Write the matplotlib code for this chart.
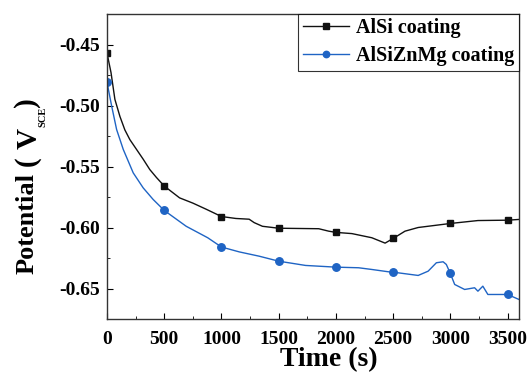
import numpy as np
import matplotlib
matplotlib.use("Agg")
from matplotlib import pyplot as plt
from matplotlib.ticker import MultipleLocator

plt.rcParams['font.family'] = 'Liberation Serif'
plt.rcParams['font.weight'] = 'bold'

# AlSi coating (black squares)
tAlSi = [0, 35, 69, 113, 156, 200, 258, 316, 374, 432, 500, 634, 750, 866, 1000,
         1126, 1242, 1286, 1358, 1500, 1850, 1937, 2000, 2140, 2314, 2430, 2500,
         2604, 2719, 3000, 3241, 3500, 3600]
vAlSi = [-0.457, -0.473, -0.495, -0.509, -0.520, -0.528, -0.536, -0.544, -0.5525,
         -0.559, -0.566, -0.5757, -0.580, -0.585, -0.591, -0.5926, -0.5932, -0.596,
         -0.599, -0.6006, -0.601, -0.603, -0.604, -0.605, -0.6084, -0.6128, -0.609,
         -0.603, -0.600, -0.5967, -0.5943, -0.594, -0.5934]

# AlSiZnMg coating (blue circles)
tZnMg = [0, 41, 84, 142, 229, 316, 403, 500, 692, 880, 1000, 1156, 1329, 1500, 1735,
         2000, 2198, 2314, 2459, 2500, 2719, 2806, 2878, 2937, 2965, 3000, 3038, 3125,
         3212, 3241, 3284, 3328, 3414, 3500, 3600]
vZnMg = [-0.481, -0.5006, -0.5197, -0.536, -0.5552, -0.5675, -0.577, -0.586, -0.599,
         -0.6084, -0.616, -0.620, -0.6235, -0.6276, -0.6311, -0.6325, -0.633, -0.6344,
         -0.6363, -0.6366, -0.6393, -0.6358, -0.6289, -0.6281, -0.6303, -0.6377,
         -0.6467, -0.6508, -0.6494, -0.6522, -0.6481, -0.6549, -0.6549, -0.6549, -0.659]

markerTimes = [0, 500, 1000, 1500, 2000, 2500, 3000, 3500]
xTicks = [0, 500, 1000, 1500, 2000, 2500, 3000, 3500]
yTicks = [-0.65, -0.60, -0.55, -0.50, -0.45]

blue = '#1f64c4'
W, H = 530, 376

fig = plt.figure(figsize=(5.3, 3.76), dpi=100)
ax = fig.add_axes([107/W, 1 - 319/H, 412/W, 305/H])

idxA = list(np.where(np.isin(tAlSi, markerTimes))[0])
idxB = list(np.where(np.isin(tZnMg, markerTimes))[0])
ax.plot(tAlSi, vAlSi, color='#111111', lw=1, marker='s', ms=4.6, markevery=idxA, label='AlSi coating')
ax.plot(tZnMg, vZnMg, color=blue, lw=1, marker='o', ms=5.4, markevery=idxB, label='AlSiZnMg coating')

ax.set_xlim(0, 3600)
ax.set_ylim(-0.675, -0.425)
ax.set_xticks(xTicks)
ax.set_yticks(yTicks)
ax.set_yticklabels(['%.2f' % v for v in yTicks])
ax.xaxis.set_minor_locator(MultipleLocator(250))
ax.yaxis.set_minor_locator(MultipleLocator(0.025))
ax.tick_params(which='both', direction='in', top=False, right=False, labelsize=14)
ax.tick_params(axis='y', pad=5)
ax.tick_params(axis='x', pad=9)
ax.tick_params(which='major', length=4)
ax.tick_params(which='minor', length=2.5)
for s in ax.spines.values():
    s.set_linewidth(1.0)
    s.set_color('#333333')

ax.set_xlabel('Time (s)', fontsize=20, fontweight='bold')
ax.xaxis.set_label_coords((329 - 107) / 412, -0.092)

# y label built from pieces: big parentheses and small subscript
def ytext(s, xb, ystart, size):
    fig.text(xb / W, 1 - ystart / H, s, rotation=90, rotation_mode='anchor',
             ha='left', va='baseline', fontsize=size, fontweight='bold')

ytext('Potential', 34, 274, 19)
ytext('(', 34, 166, 21)
ytext('V', 37, 149, 21)
ytext('SCE', 45, 127, 7.5)
ytext(')', 34, 107, 21)

leg = ax.legend(loc='upper right', fontsize=14.5, frameon=True, fancybox=False,
                borderaxespad=0, handlelength=2.3, borderpad=0.22, labelspacing=0.4,
                handletextpad=0.35, markerscale=0.85)
leg.get_frame().set_edgecolor('black')
leg.get_frame().set_linewidth(0.8)

fig.savefig('out.png', dpi=100)
